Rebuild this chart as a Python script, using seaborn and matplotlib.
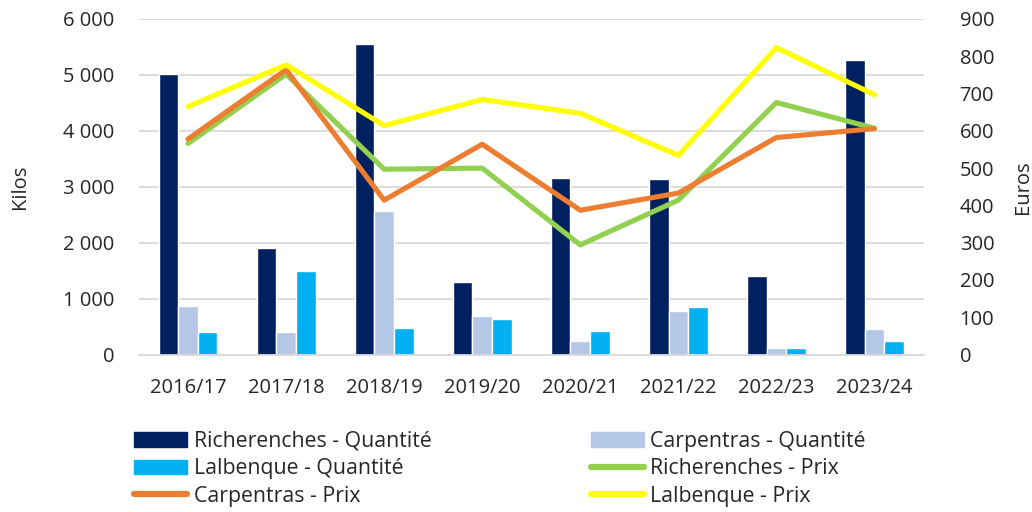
import matplotlib
matplotlib.use("Agg")
import matplotlib.pyplot as plt
import seaborn as sns
import pandas as pd
import numpy as np
from matplotlib.ticker import FuncFormatter, MultipleLocator
from matplotlib.lines import Line2D
from matplotlib.patches import Patch

seasons = ["2016/17", "2017/18", "2018/19", "2019/20", "2020/21", "2021/22", "2022/23", "2023/24"]
richerenches_qty = [5010, 1910, 5550, 1300, 3150, 3130, 1400, 5270]
carpentras_qty = [875, 410, 2570, 695, 250, 785, 125, 450]
lalbenque_qty = [410, 1500, 480, 640, 420, 850, 120, 250]
richerenches_prix = [566, 752, 497, 500, 294, 414, 676, 607]
carpentras_prix = [578, 764, 414, 564, 387, 433, 582, 606]
lalbenque_prix = [665, 777, 614, 684, 647, 534, 823, 697]

bar_names = ["Richerenches - Quantité", "Carpentras - Quantité", "Lalbenque - Quantité"]
line_names = ["Richerenches - Prix", "Carpentras - Prix", "Lalbenque - Prix"]
bar_colors = ["#002060", "#B4C7E7", "#00B0F0"]
line_colors = ["#92D050", "#ED7D31", "#FFFF00"]

sns.set_theme(style="white")
plt.rcParams['font.family'] = ['Open Sans', 'DejaVu Sans']
TXT = "#262626"
FS = 14.5
LFS = 15.3

bars_df = pd.DataFrame({
    "season": seasons * 3,
    "value": richerenches_qty + carpentras_qty + lalbenque_qty,
    "serie": sum([[n] * len(seasons) for n in bar_names], []),
})
lines_df = pd.DataFrame({
    "x": list(range(len(seasons))) * 3,
    "value": richerenches_prix + carpentras_prix + lalbenque_prix,
    "serie": sum([[n] * len(seasons) for n in line_names], []),
})

W, H = 1032, 512
fig = plt.figure(figsize=(W / 100, H / 100), dpi=100)
left, right, top, bottom = 139, 923.5, 19, 354.5
ax = fig.add_axes([left / W, 1 - bottom / H, (right - left) / W, (bottom - top) / H])
sns.barplot(data=bars_df, x="season", y="value", hue="serie", hue_order=bar_names,
            palette=bar_colors, width=0.6, ax=ax, legend=False, saturation=1)
ax.set_ylim(0, 6000)
ax.yaxis.set_major_locator(MultipleLocator(1000))
ax.yaxis.set_major_formatter(FuncFormatter(lambda v, p: f"{int(v):,}".replace(",", " ")))
ax.set_xlim(-0.5, len(seasons) - 0.5)
ax.grid(axis="y", color="#D9D9D9", linewidth=1.3)
ax.set_axisbelow(True)
for s in ["top", "right", "left"]:
    ax.spines[s].set_visible(False)
ax.spines["bottom"].set_color("#D9D9D9")
ax.spines["bottom"].set_linewidth(1.3)
ax.tick_params(axis="y", length=0, labelsize=FS, colors=TXT, pad=17.5)
ax.tick_params(axis="x", length=0, labelsize=FS, colors=TXT, pad=17)
ax.set_xlabel("")
ax.set_ylabel("")

ax2 = ax.twinx()
sns.lineplot(data=lines_df, x="x", y="value", hue="serie", hue_order=line_names,
             palette=line_colors, linewidth=3.7, ax=ax2, legend=False)
ax2.set_ylim(0, 900)
ax2.yaxis.set_major_locator(MultipleLocator(100))
for s in ["top", "right", "left", "bottom"]:
    ax2.spines[s].set_visible(False)
ax2.tick_params(axis="y", which="both", length=0, labelsize=FS, colors=TXT, pad=26)
ax2.set_ylabel("")
ax2.set_xlim(-0.5, len(seasons) - 0.5)
ax2.set_xlabel("")

fig.text(20 / W, 1 - 187 / H, "Kilos", rotation=90, ha="center", va="center", fontsize=FS, color=TXT)
fig.text(1023 / W, 1 - 187 / H, "Euros", rotation=90, ha="center", va="center", fontsize=FS, color=TXT)

handles = {
    bar_names[0]: Patch(color=bar_colors[0]),
    bar_names[1]: Patch(color=bar_colors[1]),
    bar_names[2]: Patch(color=bar_colors[2]),
    line_names[0]: Line2D([], [], color=line_colors[0], linewidth=4.5, solid_capstyle="round"),
    line_names[1]: Line2D([], [], color=line_colors[1], linewidth=4.5, solid_capstyle="round"),
    line_names[2]: Line2D([], [], color=line_colors[2], linewidth=4.5, solid_capstyle="round"),
}
col1 = [bar_names[0], bar_names[2], line_names[1]]
col2 = [bar_names[1], line_names[0], line_names[2]]
for names, x0 in ((col1, 134), (col2, 591)):
    leg = fig.legend([handles[k] for k in names], names, loc="upper left",
                     bbox_to_anchor=(x0 / W, 1 - 431 / H), frameon=False,
                     fontsize=LFS, handlelength=2.5, handleheight=0.7, handletextpad=0.3,
                     labelspacing=0.3, borderaxespad=0, borderpad=0)
    for t in leg.get_texts():
        t.set_color(TXT)

fig.savefig("out.png", dpi=100)
